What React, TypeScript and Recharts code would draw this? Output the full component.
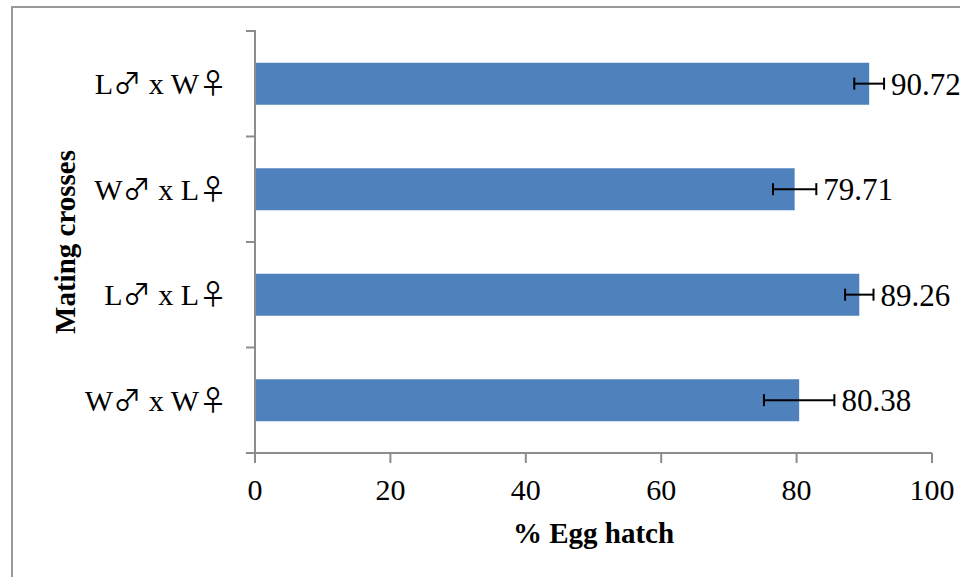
import { Bar, BarChart, ErrorBar, LabelList, Label, XAxis, YAxis } from 'recharts';

const crosses = ['L♂ x W♀', 'W♂ x L♀', 'L♂ x L♀', 'W♂ x W♀'];
const hatchPct = [90.72, 79.71, 89.26, 80.38];
const hatchErr = [2.2, 3.2, 2.1, 5.2];
const xTicks = [0, 20, 40, 60, 80, 100];

const data = crosses.map((cross, i) => ({ cross, hatch: hatchPct[i], err: hatchErr[i] }));

const FONT = '"Liberation Serif", "Times New Roman", serif';
const SYMBOL_FONT = '"Noto Sans CJK JP", "DejaVu Sans", sans-serif';
const AXIS = '#8c8c8c';
const BAR = '#4f81bd';
const Y_TICK_SIZE = 9;
const Y_TICK_MARGIN = 23;

function CrossTick(props: any) {
	const { x, y, payload, index, visibleTicksCount } = props;
	const half = payload.offset || 422 / (2 * crosses.length);
	const lx1 = x + Y_TICK_MARGIN;
	const lx2 = lx1 + Y_TICK_SIZE + 1;
	const last = index === (visibleTicksCount ?? crosses.length) - 1;
	const parts = String(payload.value).split(/([♂♀])/).filter(Boolean);
	return (
		<g>
			<line x1={lx1} x2={lx2} y1={y - half} y2={y - half} stroke={AXIS} strokeWidth={2} />
			{last && <line x1={lx1} x2={lx2} y1={y + half} y2={y + half} stroke={AXIS} strokeWidth={2} />}
			<text x={x + 4} y={y} dy="0.35em" textAnchor="end" fontFamily={FONT} fontSize={30} fill="#000">
				{parts.map((p, i) =>
					p === '♂' || p === '♀' ? (
						<tspan key={i} fontFamily={SYMBOL_FONT} fontSize={28}>
							{p}
						</tspan>
					) : (
						<tspan key={i}>{p}</tspan>
					),
				)}
			</text>
		</g>
	);
}

function ValueLabel(props: any) {
	const { x, y, width, height, value, index } = props;
	const err = hatchErr[index] ?? 0;
	const errPx = (width * err) / value;
	return (
		<text
			x={x + width + errPx + 7}
			y={y + height / 2}
			dy="0.35em"
			fontFamily={FONT}
			fontSize={31}
			fill="#000"
		>
			{value.toFixed(2)}
		</text>
	);
}

export default function App() {
	return (
		<div style={{ position: 'absolute', left: 0, top: 0, width: 960, height: 577, overflow: 'hidden', background: '#fff' }}>
			<div
				style={{
					position: 'absolute',
					left: 11,
					top: 6,
					width: 1000,
					height: 700,
					border: '2px solid #999',
				}}
			/>
			<div style={{ position: 'absolute', left: 0, top: 0 }}>
				<BarChart
					width={960}
					height={577}
					layout="vertical"
					data={data}
					margin={{ top: 31, right: 28, bottom: 0, left: 0 }}
					barCategoryGap="30%"
				>
					<XAxis
						type="number"
						domain={[0, 100]}
						ticks={xTicks}
						height={124}
						axisLine={{ stroke: AXIS, strokeWidth: 2 }}
						tickLine={{ stroke: AXIS, strokeWidth: 2 }}
						tickSize={10}
						tickMargin={16}
						tick={{ fontFamily: FONT, fontSize: 30, fill: '#000' }}
					>
						<Label
							content={(p: any) => {
								const vb = p.viewBox;
								return (
									<text
										x={vb.x + vb.width / 2}
										y={vb.y + 90}
										textAnchor="middle"
										fontFamily={FONT}
										fontWeight="bold"
										fontSize={29}
										fill="#000"
									>
										% Egg hatch
									</text>
								);
							}}
						/>
					</XAxis>
					<YAxis
						type="category"
						dataKey="cross"
						width={255}
						axisLine={{ stroke: AXIS, strokeWidth: 2 }}
						tickLine={false}
						tickSize={Y_TICK_SIZE}
						tickMargin={Y_TICK_MARGIN}
						tick={<CrossTick />}
						interval={0}
					>
						<Label
							content={(p: any) => {
								const vb = p.viewBox;
								const cy = vb.y + vb.height / 2;
								return (
									<text
										x={75}
										y={cy}
										transform={`rotate(-90, 75, ${cy})`}
										textAnchor="middle"
										fontFamily={FONT}
										fontWeight="bold"
										fontSize={29}
										fill="#000"
									>
										Mating crosses
									</text>
								);
							}}
						/>
					</YAxis>
					<Bar dataKey="hatch" fill={BAR} isAnimationActive={false}>
						<ErrorBar dataKey="err" direction="x" width={6} stroke="#000" strokeWidth={2} />
						<LabelList dataKey="hatch" content={<ValueLabel />} />
					</Bar>
				</BarChart>
			</div>
		</div>
	);
}
